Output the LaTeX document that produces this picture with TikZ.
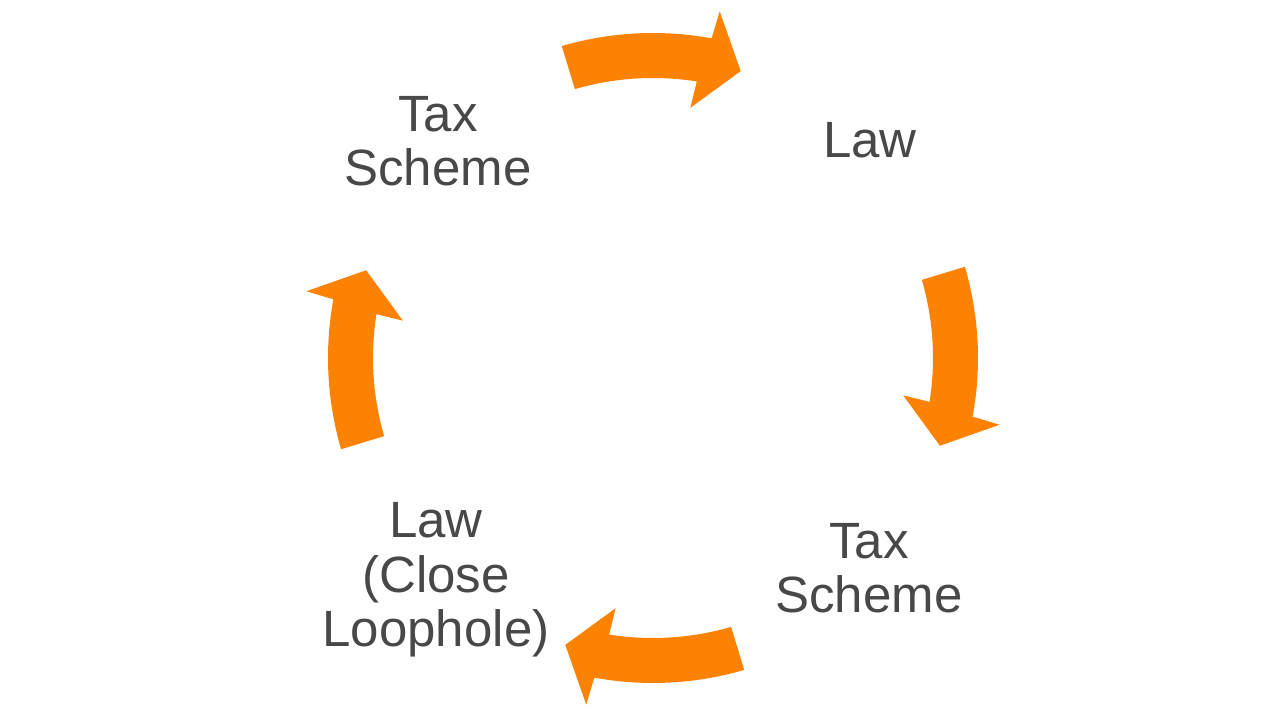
\documentclass[tikz,border=0pt]{standalone}
\usepackage{fontspec}
\setmainfont{Liberation Sans}
\definecolor{cyclefill}{RGB}{252,130,4}
\definecolor{labeltext}{RGB}{72,72,72}
\begin{document}
\begin{tikzpicture}[x=1pt,y=1pt,
  cyclelabel/.style={text=labeltext, align=center, anchor=base, inner sep=0pt,
    font=\fontsize{51}{54.5}\selectfont},
  cyclearrow/.style={fill=cyclefill, draw=none}]
\useasboundingbox[fill=white] (0,0) rectangle (1280,720);
\coordinate (c) at (653,362);
% labels (anchor base = baseline of last line)
\node[cyclelabel] (ts1) at (438,534) {Tax\\Scheme};
\node[cyclelabel] (law1) at (870,562) {Law};
\node[cyclelabel] (ts2) at (869,107) {Tax\\Scheme};
\node[cyclelabel] (law2) at (436,73) {Law\\(Close\\Loophole)};
% curved block arrows
\foreach \o in {0,90,180,270}{
  \begin{scope}[shift={(c)}, rotate=\o]
    \fill[cyclearrow] (16.2:280) arc[start angle=16.2, end angle=-9, radius=280pt]
      -- (-8.5:253) -- (-17:300) -- (-10.9:353) -- (-10.4:325)
      arc[start angle=-10.4, end angle=16.3, radius=325pt] -- cycle;
  \end{scope}
}
\end{tikzpicture}
\end{document}
